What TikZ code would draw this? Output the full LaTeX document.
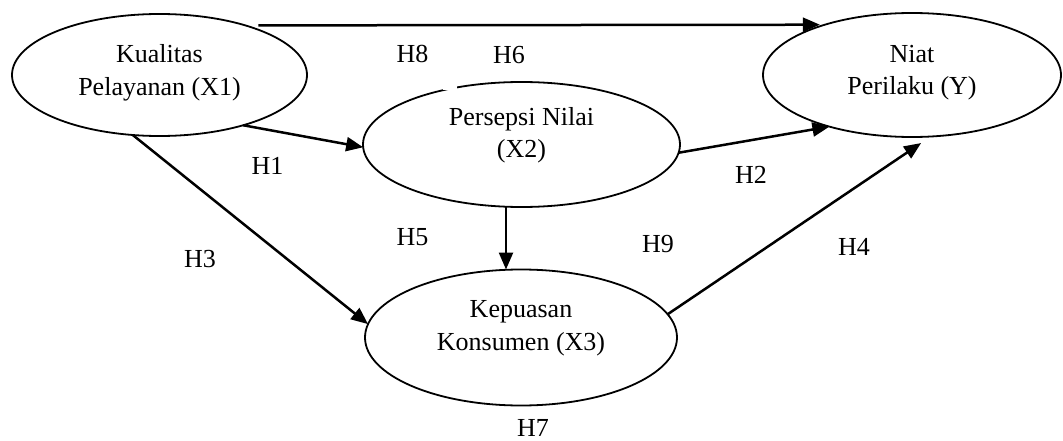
\documentclass[tikz,border=0pt]{standalone}
\usepackage{fontspec}
\setmainfont{Liberation Serif}
\usetikzlibrary{arrows.meta,shapes.geometric}
\begin{document}
\begin{tikzpicture}[x=1pt,y=-1pt,
  ell/.style={draw, ellipse, line width=1.8pt, inner sep=0pt, outer sep=0pt},
  txt/.style={align=center, inner sep=0pt, font=\fontsize{26}{32.5}\selectfont},
  hlab/.style={anchor=base, inner sep=0pt, font=\fontsize{26}{32.5}\selectfont},
  arr/.style={line width=2.5pt, -{Triangle[length=17pt,width=14pt]}},
]
% canvas
\fill[white] (0,0) rectangle (1063,441);
\useasboundingbox (0,0) rectangle (1063,441);

% constructs
\node[ell, minimum width=295pt, minimum height=122pt,
      label={[txt,yshift=2pt]center:{Kualitas\\Pelayanan (X1)}}] (X1) at (159.5,75) {};
\node[ell, minimum width=298pt, minimum height=124pt,
      label={[txt,yshift=2.5pt]center:{Niat\\Perilaku (Y)}}] (Y) at (912,75) {};
\node[ell, minimum width=317pt, minimum height=125pt,
      label={[txt,yshift=9.5pt]center:{Persepsi Nilai\\(X2)}}] (X2) at (521.5,144.5) {};
\node[ell, minimum width=312pt, minimum height=136pt,
      label={[txt,yshift=9pt]center:{Kepuasan\\Konsumen (X3)}}] (X3) at (521,337.5) {};

% small break in the outline of X2
\fill[white] (443,75) rectangle (457,90);

% hypothesised paths
\draw[arr, shorten <=13pt, shorten >=5pt] (X1.30.6) -- (Y.150.4);
\draw[arr] (X1.-31.7) -- (X2.181.3);
\draw[arr] (X1.246.2) -- (X3.175.9);
\draw[arr] (X2.256) -- (X2.256 |- X3.north);
\draw[arr] (X2.-3.5) -- (Y.212.7);
\draw[arr, shorten >=11.7pt] (X3.9.4) -- (Y.287.8);

% hypothesis labels
\node[hlab] (h8) at (412.5,63) {H8};
\node[hlab] (h6) at (509,64) {H6};
\node[hlab] (h1) at (267.5,175) {H1};
\node[hlab] (h2) at (751,183) {H2};
\node[hlab] (h3) at (200,267) {H3};
\node[hlab] (h5) at (412.5,245) {H5};
\node[hlab] (h9) at (658,252) {H9};
\node[hlab] (h4) at (854,255) {H4};
\node[hlab] (h7) at (533,436) {H7};
\end{tikzpicture}
\end{document}
